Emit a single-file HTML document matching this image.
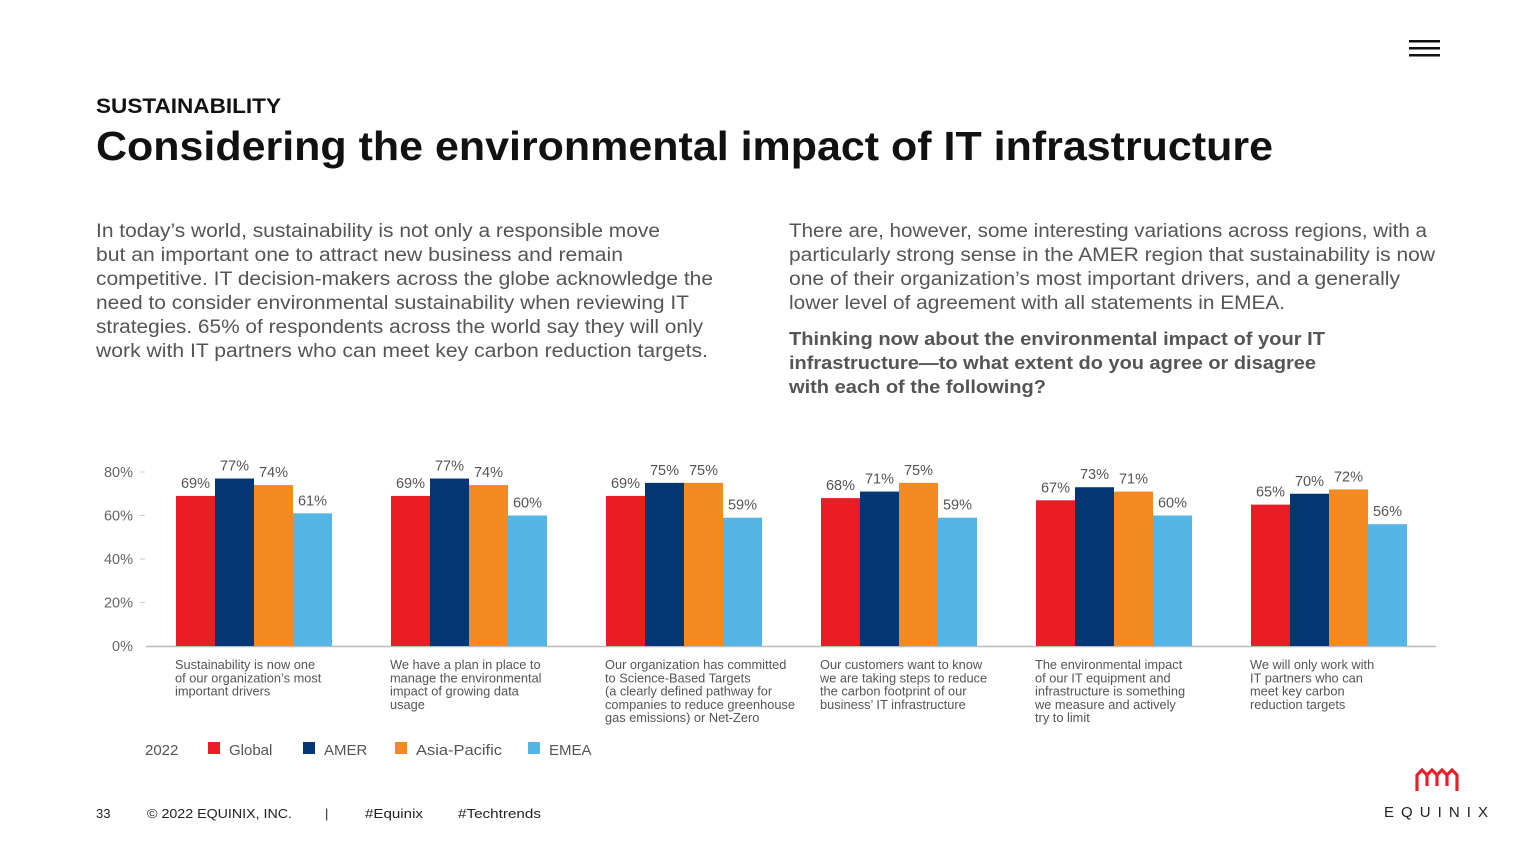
<!DOCTYPE html>
<html><head><meta charset="utf-8"><style>
html,body{margin:0;padding:0;background:#fff;}
svg{display:block;font-family:"Liberation Sans",sans-serif;}
</style></head><body>
<svg id="page" width="1536" height="864" viewBox="0 0 1536 864">
<g>
<rect x="1409" y="40" width="31" height="2.5" fill="#111"/><rect x="1409" y="47" width="31" height="2.5" fill="#111"/><rect x="1409" y="54" width="31" height="2.5" fill="#111"/>
</g>
<text x="96" y="113" font-size="21" font-weight="bold" fill="#111" textLength="185" lengthAdjust="spacingAndGlyphs">SUSTAINABILITY</text>
<text x="96" y="160" font-size="41" font-weight="bold" fill="#111" textLength="1177" lengthAdjust="spacingAndGlyphs">Considering the environmental impact of IT infrastructure</text>
<g font-size="19" fill="#555">
<text x="96" y="237" textLength="564" lengthAdjust="spacingAndGlyphs">In today’s world, sustainability is not only a responsible move</text>
<text x="96" y="261" textLength="527" lengthAdjust="spacingAndGlyphs">but an important one to attract new business and remain</text>
<text x="96" y="285" textLength="617" lengthAdjust="spacingAndGlyphs">competitive. IT decision-makers across the globe acknowledge the</text>
<text x="96" y="309" textLength="593" lengthAdjust="spacingAndGlyphs">need to consider environmental sustainability when reviewing IT</text>
<text x="96" y="333" textLength="607" lengthAdjust="spacingAndGlyphs">strategies. 65% of respondents across the world say they will only</text>
<text x="96" y="357" textLength="612" lengthAdjust="spacingAndGlyphs">work with IT partners who can meet key carbon reduction targets.</text>
</g>
<g font-size="19" fill="#555">
<text x="789" y="237" textLength="638" lengthAdjust="spacingAndGlyphs">There are, however, some interesting variations across regions, with a</text>
<text x="789" y="261" textLength="646" lengthAdjust="spacingAndGlyphs">particularly strong sense in the AMER region that sustainability is now</text>
<text x="789" y="285" textLength="611" lengthAdjust="spacingAndGlyphs">one of their organization’s most important drivers, and a generally</text>
<text x="789" y="309" textLength="496" lengthAdjust="spacingAndGlyphs">lower level of agreement with all statements in EMEA.</text>
</g>
<g font-size="18" font-weight="bold" fill="#555">
<text x="789" y="345" textLength="536" lengthAdjust="spacingAndGlyphs">Thinking now about the environmental impact of your IT</text>
<text x="789" y="369" textLength="527" lengthAdjust="spacingAndGlyphs">infrastructure—to what extent do you agree or disagree</text>
<text x="789" y="393" textLength="257" lengthAdjust="spacingAndGlyphs">with each of the following?</text>
</g>
<g id="chart"></g>
<g font-size="15" fill="#555">
<text x="145" y="755">2022</text>
<g><rect x="208" y="742" width="12" height="12" fill="#ec1c24"/><text x="229" y="755">Global</text></g>
<g><rect x="303" y="742" width="12" height="12" fill="#043673"/><text x="324" y="755">AMER</text></g>
<g><rect x="395" y="742" width="12" height="12" fill="#f48a21"/><text x="416" y="755" textLength="86" lengthAdjust="spacingAndGlyphs">Asia-Pacific</text></g>
<g><rect x="528" y="742" width="12" height="12" fill="#55b6e6"/><text x="549" y="755">EMEA</text></g>
</g>
<g font-size="13" fill="#222">
<text x="96" y="818">33</text>
<text x="147" y="818" textLength="145" lengthAdjust="spacingAndGlyphs">© 2022 EQUINIX, INC.</text>
<text x="325" y="818">|</text>
<text x="365" y="818" textLength="58" lengthAdjust="spacingAndGlyphs">#Equinix</text>
<text x="458" y="818" textLength="83" lengthAdjust="spacingAndGlyphs">#Techtrends</text>
</g>
<g>
<path d="M1417 791 V775 L1422 770 L1427 775 V786 M1427 775 L1432 770 L1437 775 V786 M1437 775 L1442 770 L1447 775 V786 M1447 775 L1452 770 L1457 775 V791" fill="none" stroke="#e4202a" stroke-width="3.2"/>
<text x="1384" y="817" font-size="15" fill="#222" textLength="104" lengthAdjust="spacing">EQUINIX</text>
</g>
</svg>
<script>
const categories=[
["Sustainability is now one","of our organization’s most","important drivers"],
["We have a plan in place to","manage the environmental","impact of growing data","usage"],
["Our organization has committed","to Science-Based Targets","(a clearly defined pathway for","companies to reduce greenhouse","gas emissions) or Net-Zero"],
["Our customers want to know","we are taking steps to reduce","the carbon footprint of our","business’ IT infrastructure"],
["The environmental impact","of our IT equipment and","infrastructure is something","we measure and actively","try to limit"],
["We will only work with","IT partners who can","meet key carbon","reduction targets"]];
const seriesNames=["Global","AMER","Asia-Pacific","EMEA"];
const globalVals=[69,69,69,68,67,65];
const amerVals=[77,77,75,71,73,70];
const apacVals=[74,74,75,75,71,72];
const emeaVals=[61,60,59,59,60,56];
const yTicks=[0,20,40,60,80];
const colors=["#ec1c24","#043673","#f48a21","#55b6e6"];
const series=[globalVals,amerVals,apacVals,emeaVals];
const NS="http://www.w3.org/2000/svg";
const chart=document.getElementById('chart');
const y=v=>646-v*(174/80);
const groupX=i=>176+i*215;
const barW=39;
function mk(tag,attrs,parent){const e=document.createElementNS(NS,tag);for(const k in attrs)e.setAttribute(k,attrs[k]);parent.appendChild(e);return e;}
yTicks.forEach(t=>{
 const tx=mk('text',{x:133,y:y(t)+5,'font-size':14.5,fill:'#666','text-anchor':'end'},chart);
 tx.textContent=t+'%';
 
 
 if(t>0) mk('line',{x1:140,x2:145,y1:y(t),y2:y(t),stroke:'#ccc'},chart);
});
const ax=mk('line',{x1:146,x2:1436,y1:646.5,y2:646.5,stroke:'#bbb','stroke-width':1.5},chart);


categories.forEach((lines,i)=>{
 series.forEach((vals,s)=>{
  const x=groupX(i)+s*barW;
  const r=mk('rect',{x:x,y:y(vals[i]),width:barW,height:646-y(vals[i]),fill:colors[s]},chart);
  
  
  const l=mk('text',{x:x+barW/2,y:y(vals[i])-8,'font-size':14.5,fill:'#555','text-anchor':'middle'},chart);
  l.textContent=vals[i]+'%';
  
  
 });
 const t=mk('text',{'font-size':12.8,fill:'#555'},chart);
 
 
 lines.forEach((ln,k)=>{const ts=mk('tspan',{x:groupX(i)-1,y:669+k*13.3},t);ts.textContent=ln;});
});
</script>
</body></html>
